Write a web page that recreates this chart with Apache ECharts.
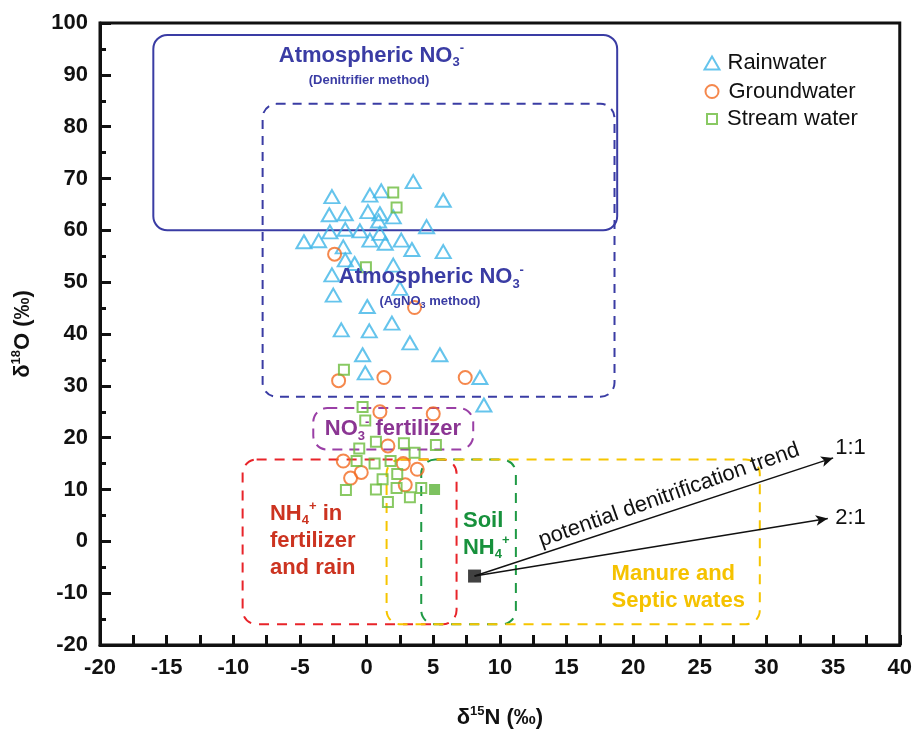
<!DOCTYPE html>
<html>
<head>
<meta charset="utf-8">
<script src="https://cdn.jsdelivr.net/npm/echarts@6/dist/echarts.min.js"></script>
<style>
html, body { margin: 0; padding: 0; background: #ffffff; }
#chart { width: 915px; height: 734px; }
</style>
</head>
<body>
<div id="chart"></div>
<script>
// Dual isotope plot of nitrate: δ15N (x) versus δ18O (y), values in ‰

// Samples [δ15N, δ18O]
const rainwater = [
  [3.5, 69.4], [1.1, 67.6], [0.25, 66.8], [-2.6, 66.5], [5.75, 65.8],
  [-2.8, 63.0], [-1.6, 63.2], [0.1, 63.6], [1.0, 63.2], [2.0, 62.6],
  [0.9, 61.8], [4.5, 60.7], [-2.75, 59.7], [-1.6, 60.2], [-0.5, 59.9],
  [-4.7, 57.8], [-3.6, 58.0], [0.25, 58.1], [1.0, 59.4], [1.4, 57.5],
  [2.6, 58.1], [3.4, 56.3], [5.75, 55.9], [-1.75, 56.8], [-1.6, 54.3],
  [-0.9, 53.6], [2.0, 53.3], [-2.6, 51.4], [-2.5, 47.5], [2.5, 48.8],
  [0.05, 45.3], [-1.9, 40.8], [0.2, 40.6], [1.9, 42.1], [3.25, 38.3],
  [-0.3, 36.0], [5.5, 36.0], [-0.1, 32.5], [8.5, 31.6], [8.8, 26.3]
];
const groundwater = [
  [-2.4, 55.4], [3.6, 45.1], [-2.1, 31.0], [1.3, 31.6], [7.4, 31.6],
  [1.0, 25.0], [5.0, 24.6], [1.6, 18.4], [-1.75, 15.5], [2.75, 15.0],
  [3.8, 13.9], [-0.4, 13.3], [-1.2, 12.2], [2.9, 10.9]
];
const streamWater = [
  [2.0, 67.3], [2.25, 64.4], [-0.05, 52.9], [-1.7, 33.1], [-0.3, 25.9],
  [-0.1, 23.3], [0.7, 19.2], [2.8, 18.9], [5.2, 18.6], [-0.55, 17.9],
  [3.6, 17.1], [-0.75, 15.5], [0.6, 15.0], [1.8, 15.5], [2.3, 13.0],
  [1.2, 12.0], [-1.55, 9.9], [0.7, 10.0], [2.25, 10.3], [4.1, 10.3],
  [3.25, 8.5], [1.6, 7.6]
];
const streamWaterMean = [[5.1, 10.0]];
const soilAmmonium = [8.1, -6.7];

// Denitrification trend end points (1:1 and 2:1)
const trendOneToOne = [35.0, 16.1];
const trendTwoToOne = [34.6, 4.4];

// Nitrate source ranges: [δ15N min, δ15N max], [δ18O min, δ18O max]
const sourceNames = [
  'Atmospheric NO3- (Denitrifier method)',
  'Atmospheric NO3- (AgNO3 method)',
  'NO3- fertilizer',
  'NH4+ in fertilizer and rain',
  'Soil NH4+',
  'Manure and Septic wates'
];
const sourceN15 = [[-16, 18.8], [-7.8, 18.6], [-4, 8], [-9.3, 6.75], [4.1, 11.2], [1.5, 29.5]];
const sourceO18 = [[60, 97.7], [27.9, 84.4], [17.7, 25.7], [-16, 15.8], [-16, 15.8], [-16, 15.8]];

// Axis ticks
const xTicks = [-20, -15, -10, -5, 0, 5, 10, 15, 20, 25, 30, 35, 40];
const yTicks = [-20, -10, 0, 10, 20, 30, 40, 50, 60, 70, 80, 90, 100];

const FONT = '"Liberation Sans", Arial, Helvetica, sans-serif';
const INK = '#111111';

const boxStyles = [
  { stroke: '#3a3ca4', dash: null },
  { stroke: '#3a3ca4', dash: [9, 7] },
  { stroke: '#9a3fa6', dash: [10, 7] },
  { stroke: '#e8242a', dash: [10, 8] },
  { stroke: '#1f9a45', dash: [10, 8] },
  { stroke: '#f6c500', dash: [10, 8] }
];

const boxData = sourceNames.map((n, i) => [sourceN15[i][0], sourceN15[i][1], sourceO18[i][0], sourceO18[i][1], i]);

function richSet(color, size) {
  return {
    b: { fill: color, fontSize: size, fontWeight: 'bold', fontFamily: FONT, lineHeight: size + 5 },
    sub: { fill: color, fontSize: Math.round(size * 0.6), fontWeight: 'bold', fontFamily: FONT, verticalAlign: 'bottom', lineHeight: Math.round(size * 0.6) },
    sup: { fill: color, fontSize: Math.round(size * 0.6), fontWeight: 'bold', fontFamily: FONT, verticalAlign: 'top', lineHeight: Math.round(size * 0.6) },
    s: { fill: color, fontSize: 13, fontWeight: 'bold', fontFamily: FONT, lineHeight: 16 },
    ssub: { fill: color, fontSize: 9, fontWeight: 'bold', fontFamily: FONT, verticalAlign: 'bottom', lineHeight: 9 }
  };
}

// Text annotations, anchored in data coordinates
const notes = [
  { at: [0.36, 93.7], text: '{b|Atmospheric NO}{sub|3}{sup|-}', rich: richSet('#3a3ca4', 22), align: 'center' },
  { at: [0.18, 88.9], text: '{s|(Denitrifier method)}', rich: richSet('#3a3ca4', 22), align: 'center' },
  { at: [4.86, 51.0], text: '{b|Atmospheric NO}{sub|3}{sup|-}', rich: richSet('#3a3ca4', 22), align: 'center' },
  { at: [4.75, 46.2], text: '{s|(AgNO}{ssub|3}{s| method)}', rich: richSet('#3a3ca4', 22), align: 'center' },
  { at: [1.98, 21.6], text: '{b|NO}{sub|3}{sup|-}{b| fertilizer}', rich: richSet('#8b3593', 22), align: 'center' },
  { at: [-7.25, 0.1], text: '{b|NH}{sub|4}{sup|+}{b| in}\n{b|fertilizer}\n{b|and rain}', rich: richSet('#cc3320', 22), align: 'left', lh: 28 },
  { at: [7.23, 1.4], text: '{b|Soil}\n{b|NH}{sub|4}{sup|+}', rich: richSet('#17913c', 22), align: 'left' },
  { at: [18.38, -8.9], text: '{b|Manure and}\n{b|Septic wates}', rich: richSet('#f5c200', 22), align: 'left' },
  { at: [22.7, 8.9], text: 'potential denitrification trend', plain: true, align: 'center', rotation: 19.5 },
  { at: [36.3, 18.0], text: '1:1', plain: true, align: 'center' },
  { at: [36.3, 4.5], text: '2:1', plain: true, align: 'center' }
];

const chart = echarts.init(document.getElementById('chart'), null, { renderer: 'canvas' });

const axisNameRich = {
  t: { fontSize: 22, fontWeight: 'bold', fontFamily: FONT, color: INK, lineHeight: 26 },
  s: { fontSize: 13, fontWeight: 'bold', fontFamily: FONT, color: INK, verticalAlign: 'top', lineHeight: 13 }
};

// One legend block per sample type so each marker keeps its own size
function legendBlock(name, w, h, top, gap) {
  return {
    data: [name],
    orient: 'vertical',
    left: 706 - w / 2, top: top,
    itemWidth: w, itemHeight: h,
    textStyle: { fontSize: 22, fontFamily: FONT, color: INK, padding: [0, 0, 0, gap] }
  };
}

const option = {
  animation: false,
  backgroundColor: '#ffffff',
  grid: {
    left: 100, right: 15, top: 23, bottom: 89,
    show: true, borderColor: INK, borderWidth: 3, backgroundColor: 'transparent'
  },
  legend: [
    legendBlock('Rainwater', 15, 13, 47, 3),
    legendBlock('Groundwater', 13, 13, 75.5, 5),
    legendBlock('Stream water', 10, 10, 103, 5)
  ],
  xAxis: {
    type: 'value', min: -20, max: 40, interval: 5,
    name: '{t|δ}{s|15}{t|N (‰)}', nameLocation: 'middle', nameGap: 60,
    nameTextStyle: { rich: axisNameRich },
    axisLine: { onZero: false, lineStyle: { color: INK, width: 3 } },
    axisTick: { inside: true, length: 10, lineStyle: { width: 3, color: INK } },
    minorTick: { show: true, splitNumber: 2, length: 10, lineStyle: { width: 3, color: INK } },
    splitLine: { show: false },
    axisLabel: {
      fontSize: 22, fontWeight: 'bold', fontFamily: FONT, color: INK, margin: 12,
      formatter: v => (xTicks.indexOf(v) >= 0 ? String(v) : '')
    }
  },
  yAxis: {
    type: 'value', min: -20, max: 100, interval: 10,
    name: '{t|δ}{s|18}{t|O (‰)}', nameLocation: 'middle', nameGap: 64,
    nameTextStyle: { rich: axisNameRich },
    axisLine: { onZero: false, lineStyle: { color: INK, width: 3 } },
    axisTick: { inside: true, length: 11, lineStyle: { width: 3, color: INK } },
    minorTick: { show: true, splitNumber: 2, length: 6, lineStyle: { width: 3, color: INK } },
    splitLine: { show: false },
    axisLabel: {
      fontSize: 22, fontWeight: 'bold', fontFamily: FONT, color: INK, margin: 12,
      formatter: v => (yTicks.indexOf(v) >= 0 ? String(v) : '')
    }
  },
  series: [
    {
      name: 'sources', type: 'custom', silent: true, z: 1,
      data: boxData,
      encode: { x: [0, 1], y: [2, 3] },
      renderItem: function (params, api) {
        const i = api.value(4);
        const tl = api.coord([api.value(0), api.value(3)]);
        const br = api.coord([api.value(1), api.value(2)]);
        const st = boxStyles[i];
        return {
          type: 'rect',
          shape: { x: tl[0], y: tl[1], width: br[0] - tl[0], height: br[1] - tl[1], r: 14 },
          style: { fill: null, stroke: st.stroke, lineWidth: 2, lineDash: st.dash }
        };
      }
    },
    {
      name: 'Rainwater', type: 'scatter', z: 3,
      data: rainwater, symbol: 'triangle', symbolSize: [15, 13],
      itemStyle: { color: 'rgba(255,255,255,0)', borderColor: '#3fb5e7', borderWidth: 2 }
    },
    {
      name: 'Groundwater', type: 'scatter', z: 3,
      data: groundwater, symbol: 'circle', symbolSize: 13,
      itemStyle: { color: 'rgba(255,255,255,0)', borderColor: '#f26a21', borderWidth: 2 }
    },
    {
      name: 'Stream water', type: 'scatter', z: 3,
      data: streamWater, symbol: 'rect', symbolSize: 10,
      itemStyle: { color: 'rgba(255,255,255,0)', borderColor: '#6cbb3c', borderWidth: 2 }
    },
    {
      name: 'stream mean', type: 'scatter', z: 3,
      data: streamWaterMean, symbol: 'rect', symbolSize: 11,
      itemStyle: { color: '#5cb338' }
    },
    {
      name: 'soil NH4', type: 'scatter', z: 4,
      data: [soilAmmonium], symbol: 'rect', symbolSize: 13,
      itemStyle: { color: INK },
      markLine: {
        silent: true, animation: false,
        symbol: ['none', 'arrow'], symbolSize: [8, 12],
        lineStyle: { color: INK, width: 1.5, type: 'solid' },
        label: { show: false },
        emphasis: { disabled: true },
        data: [
          [{ coord: soilAmmonium }, { coord: trendOneToOne }],
          [{ coord: soilAmmonium }, { coord: trendTwoToOne }]
        ]
      }
    },
    {
      name: 'notes', type: 'custom', silent: true, z: 5,
      data: notes.map((n, i) => [n.at[0], n.at[1], i]),
      encode: { x: 0, y: 1 },
      renderItem: function (params, api) {
        const n = notes[api.value(2)];
        const p = api.coord([api.value(0), api.value(1)]);
        const style = n.plain
          ? { text: n.text, fill: INK, fontSize: 22, fontFamily: FONT, align: n.align, verticalAlign: 'middle' }
          : { text: n.text, rich: n.rich, align: n.align, verticalAlign: 'middle', lineHeight: n.lh || 26 };
        return {
          type: 'text', x: p[0], y: p[1],
          rotation: n.rotation ? n.rotation * Math.PI / 180 : 0,
          style: style
        };
      }
    }
  ]
};

chart.setOption(option);
</script>
</body>
</html>
